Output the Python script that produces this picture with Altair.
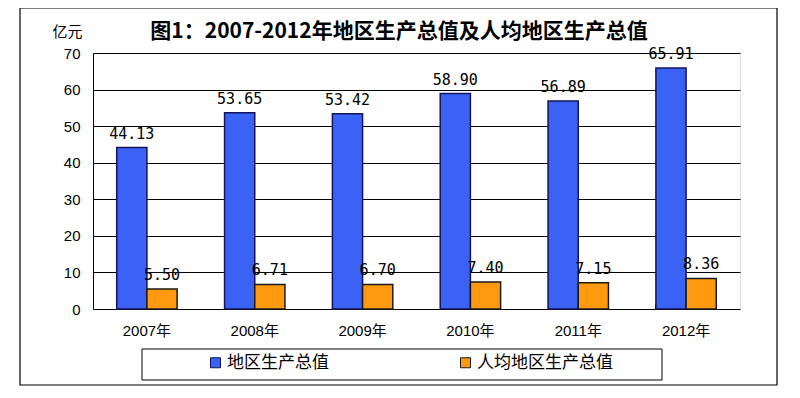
import altair as alt
import pandas as pd

years = ["2007年", "2008年", "2009年", "2010年", "2011年", "2012年"]
gdp = [44.13, 53.65, 53.42, 58.90, 56.89, 65.91]
per_capita = [5.50, 6.71, 6.70, 7.40, 7.15, 8.36]
series_names = ["地区生产总值", "人均地区生产总值"]
bar_colors = ["#3A62F5", "#FF9A10"]
edge_colors = ["#14145A", "#1A1A1A"]
y_ticks = [0, 10, 20, 30, 40, 50, 60, 70]
title_text = "图1：2007-2012年地区生产总值及人均地区生产总值"
y_unit = "亿元"

rows = []
for i, yr in enumerate(years):
    rows.append({"year": yr, "series": series_names[0], "value": gdp[i]})
    rows.append({"year": yr, "series": series_names[1], "value": per_capita[i]})
df = pd.DataFrame(rows)

W, H = 647, 256
SANS = "Liberation Sans, Noto Sans CJK SC"
CJK = "Noto Sans CJK SC"

x_enc = alt.X(
    "year:N", sort=years,
    scale=alt.Scale(paddingInner=0.44, paddingOuter=0.22),
    axis=alt.Axis(title=None, labelAngle=0, domain=False, grid=False,
                  ticks=True, tickSize=5, tickColor="black", tickWidth=1,
                  bandPosition=0, offset=-5, labelPadding=14,
                  labelFont=SANS, labelFontSize=15, labelColor="black"),
)
xo_enc = alt.XOffset("series:N", sort=series_names,
                     scale=alt.Scale(domain=series_names, paddingInner=0, paddingOuter=0))
y_enc = alt.Y(
    "value:Q",
    scale=alt.Scale(domain=[0, 70], nice=False, zero=True),
    axis=alt.Axis(values=y_ticks, title=y_unit, titleAngle=0, titleX=-26, titleY=-22,
                  titleAlign="center", titleBaseline="middle", titleFont=CJK,
                  titleFontWeight="normal", titleFontSize=15, titleColor="black",
                  grid=True, gridColor="black", gridOpacity=1, gridWidth=1,
                  domain=True, domainColor="black", domainWidth=1, ticks=False,
                  labelPadding=13, labelFont=SANS, labelFontSize=15, labelColor="black"),
)

bars = alt.Chart(df).mark_bar(strokeWidth=1.5).encode(
    x=x_enc, xOffset=xo_enc, y=y_enc,
    color=alt.Color("series:N", sort=series_names,
                    scale=alt.Scale(domain=series_names, range=bar_colors),
                    legend=alt.Legend(title=None, orient="none", legendX=114, legendY=301,
                                      direction="horizontal", symbolType="square",
                                      symbolSize=100, symbolStrokeColor="#111",
                                      symbolStrokeWidth=1, labelFont=CJK, labelFontSize=17,
                                      labelColor="black", columnPadding=128, labelOffset=3,
                                      padding=0)),
    stroke=alt.Stroke("series:N", sort=series_names,
                      scale=alt.Scale(domain=series_names, range=edge_colors), legend=None),
)

labels = alt.Chart(df).mark_text(dy=-9, baseline="alphabetic", font="DejaVu Sans Mono",
                                  fontSize=15, color="black").encode(
    x=x_enc, xOffset=xo_enc, y=y_enc,
    text=alt.Text("value:Q", format=".2f"),
)

frame_df = pd.DataFrame({"k": [0]})
legend_box = alt.Chart(frame_df).mark_rect(filled=False, stroke="black", strokeWidth=1).encode(
    x=alt.value(49), x2=alt.value(569), y=alt.value(296), y2=alt.value(327))
outer_box = alt.Chart(frame_df).mark_rect(filled=False, stroke="black", strokeWidth=1.2).encode(
    x=alt.value(-73), x2=alt.value(684), y=alt.value(-45), y2=alt.value(332))
title_mark = alt.Chart(frame_df).mark_text(
    font=CJK, fontSize=21, fontWeight="bold", color="black",
    align="center", baseline="middle").encode(
    x=alt.value(306), y=alt.value(-21), text=alt.value(title_text))

chart = alt.layer(bars, labels, legend_box, outer_box, title_mark).properties(
    width=W, height=H,
    padding={"left": 85, "top": 45, "right": 48, "bottom": 77},
    autosize=alt.AutoSizeParams(type="none"),
).configure_view(fill="#C0C0C0", stroke=None).configure(background="white")

chart.save("out.html", embed_options={"renderer": "svg", "actions": False})
